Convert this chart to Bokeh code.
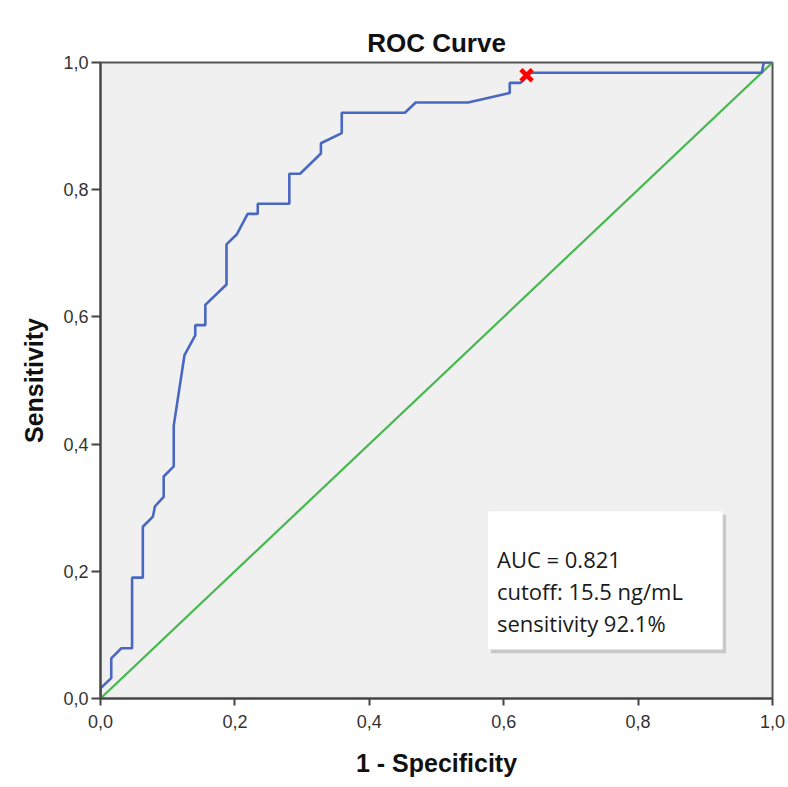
from bokeh.plotting import figure
from bokeh.models import Range1d, FixedTicker, CustomJSTickFormatter, BoxAnnotation, Label
from bokeh.embed import file_html
from bokeh.resources import INLINE

# ROC curve coordinates (1 - specificity, sensitivity)
fpr = [0.0, 0.0, 0.016, 0.016, 0.031, 0.047, 0.047, 0.063, 0.063, 0.078, 0.081,
       0.094, 0.094, 0.109, 0.109, 0.125, 0.141, 0.141, 0.156, 0.156, 0.1875,
       0.1875, 0.203, 0.219, 0.234, 0.234, 0.281, 0.281, 0.297, 0.328, 0.328,
       0.359, 0.359, 0.453, 0.469, 0.547, 0.609, 0.609, 0.625, 0.640, 0.984,
       0.987, 1.0]
tpr = [0.0, 0.016, 0.032, 0.063, 0.079, 0.079, 0.190, 0.190, 0.270, 0.286, 0.302,
       0.317, 0.349, 0.365, 0.429, 0.540, 0.571, 0.587, 0.587, 0.619, 0.651,
       0.714, 0.730, 0.762, 0.762, 0.778, 0.778, 0.825, 0.825, 0.857, 0.873,
       0.889, 0.921, 0.921, 0.937, 0.937, 0.952, 0.968, 0.968, 0.984, 0.984,
       1.0, 1.0]

# chance line
ref_x = [0.0, 1.0]
ref_y = [0.0, 1.0]

# optimal cutoff point
cut_x = [0.634]
cut_y = [0.980]

ticks = [0.0, 0.2, 0.4, 0.6, 0.8, 1.0]
summary_lines = ["AUC = 0.821", "cutoff: 15.5 ng/mL", "sensitivity 92.1%"]

p = figure(width=788, height=787, output_backend="svg", toolbar_location=None,
           x_range=Range1d(0, 1), y_range=Range1d(0, 1),
           min_border_left=100, min_border_right=16, min_border_top=62,
           min_border_bottom=89, title="ROC Curve")

p.background_fill_color = "#f0f0f0"
p.border_fill_color = "white"
p.outline_line_color = "#555555"
p.outline_line_width = 2
p.grid.visible = False

p.title.align = "center"
p.title.text_font = "Liberation Sans"
p.title.text_font_size = "26px"
p.title.text_font_style = "bold"
p.title.text_color = "#111111"
p.title.standoff = 9

fmt = CustomJSTickFormatter(code="return tick.toFixed(1).replace('.', ',');")
for ax in (p.xaxis[0], p.yaxis[0]):
    ax.ticker = FixedTicker(ticks=ticks)
    ax.formatter = fmt
    ax.minor_tick_line_color = None
    ax.major_tick_in = 0
    ax.axis_line_color = "#444444"
    ax.axis_line_width = 2
    ax.major_tick_line_color = "#444444"
    ax.major_tick_line_width = 2
    ax.major_label_text_font = "Liberation Sans"
    ax.major_label_text_font_size = "18px"
    ax.major_label_text_color = "#333333"
    ax.axis_label_text_font = "Liberation Sans"
    ax.axis_label_text_font_size = "25px"
    ax.axis_label_text_font_style = "bold"
    ax.axis_label_text_color = "#111111"

p.xaxis.axis_label = "1 - Specificity"
p.xaxis.major_tick_out = 7
p.xaxis.major_label_standoff = 9
p.xaxis.axis_label_standoff = 18

p.yaxis.axis_label = "Sensitivity"
p.yaxis.major_tick_out = 9
p.yaxis.major_label_standoff = 3
p.yaxis.axis_label_standoff = 12

p.line(ref_x, ref_y, line_color="#45b84e", line_width=2.2)
p.line(fpr, tpr, line_color="#4a67c2", line_width=2.6)
p.scatter(cut_x, cut_y, marker="x", size=16, line_color="#ff0000", line_width=4.5)

# summary box with a soft drop shadow
p.add_layout(BoxAnnotation(left=0.581, right=0.931, bottom=0.071, top=0.289,
                           fill_color="#999999", fill_alpha=0.45, line_color=None))
p.add_layout(BoxAnnotation(left=0.576, right=0.926, bottom=0.077, top=0.295,
                           fill_color="white", fill_alpha=1.0, line_color="#dddddd",
                           line_width=1))
for i, txt in enumerate(summary_lines):
    p.add_layout(Label(x=0.590, y=0.219 - i * 0.0505, text=txt,
                       text_font="Open Sans", text_font_size="22px",
                       text_color="#1a1a1a", text_baseline="alphabetic"))

open("out.html", "w").write(file_html(p, INLINE))
